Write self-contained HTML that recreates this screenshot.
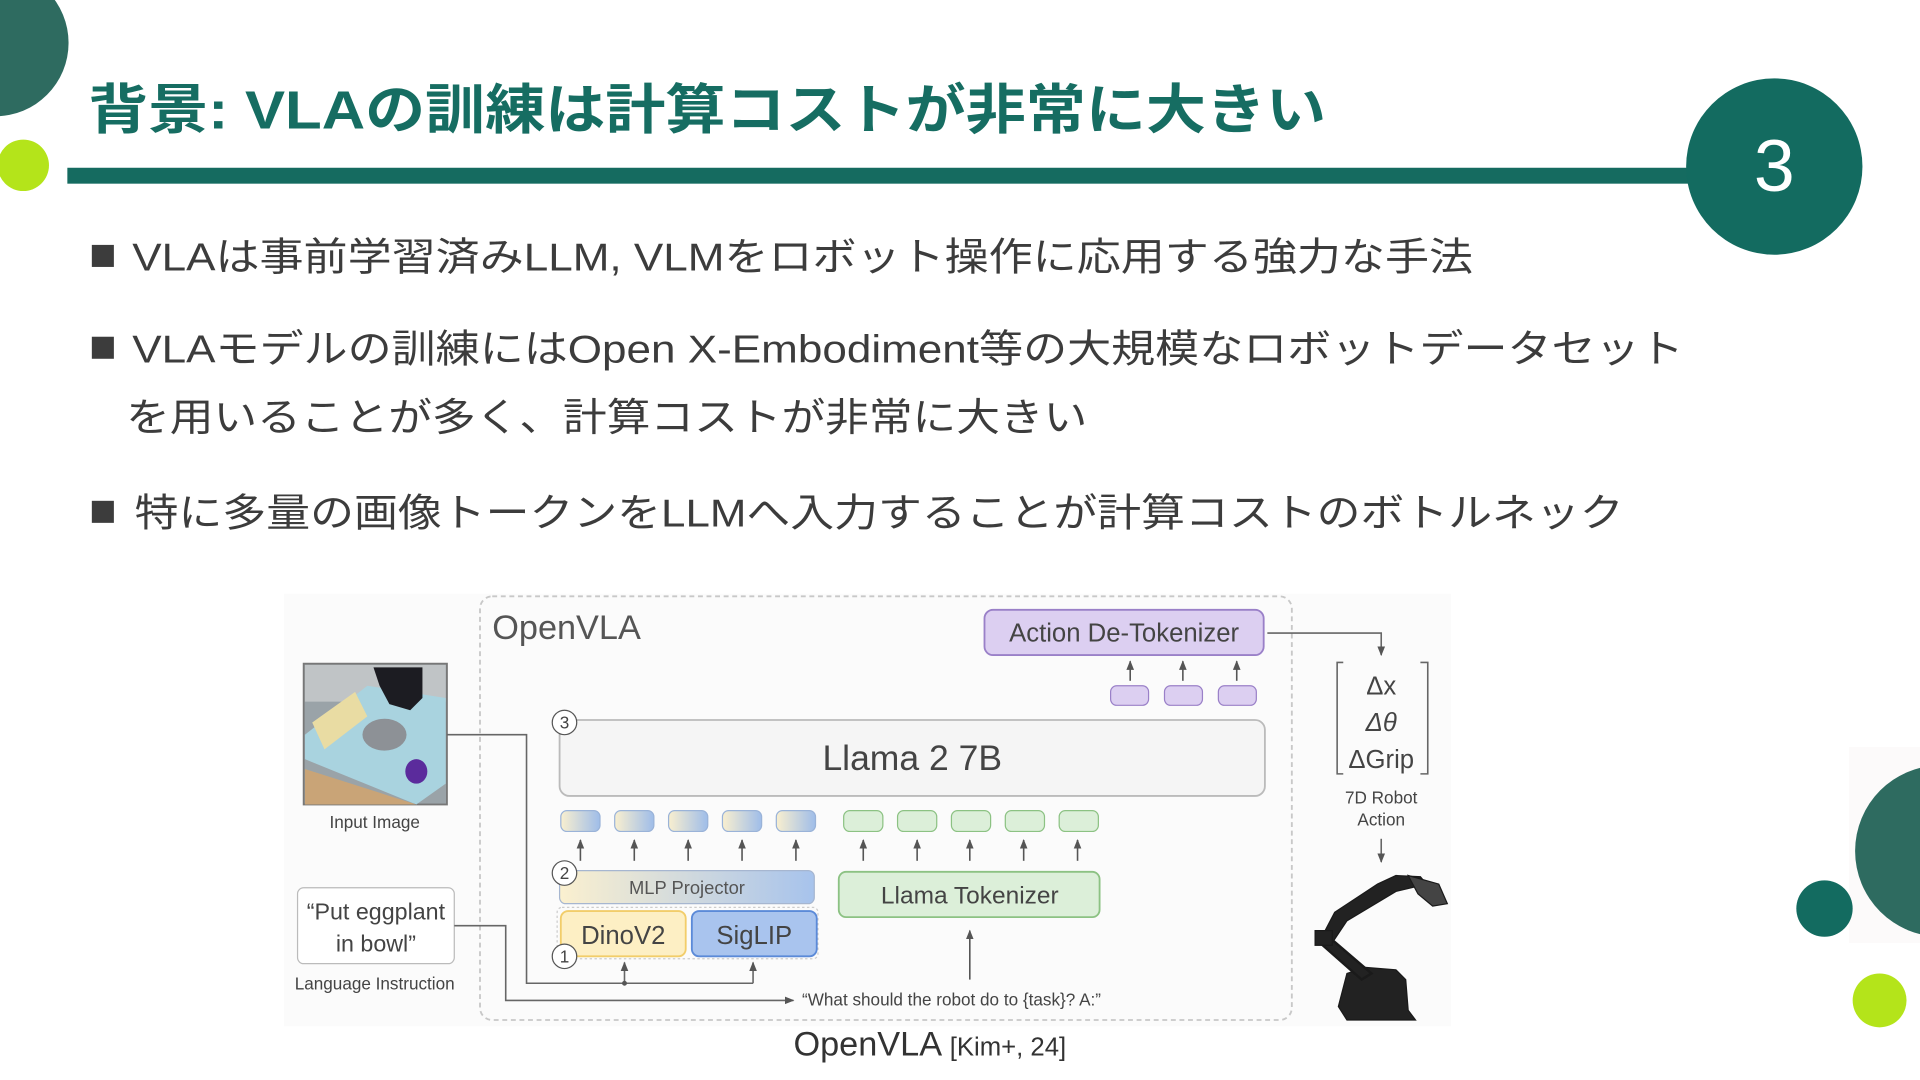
<!DOCTYPE html>
<html><head><meta charset="utf-8"><style>
html,body{margin:0;padding:0;background:#fff;width:1920px;height:1080px;overflow:hidden}
svg{display:block}
text{font-family:"Liberation Sans","Noto Sans CJK JP",sans-serif}
</style></head><body>
<svg width="1920" height="1080" viewBox="0 0 1568 882" xmlns="http://www.w3.org/2000/svg">
<defs>
<linearGradient id="gy" x1="0" x2="1" y1="0" y2="0"><stop offset="0" stop-color="#fbf0cf"/><stop offset="1" stop-color="#a7c3ec"/></linearGradient>
<linearGradient id="gt" x1="0" x2="1" y1="0" y2="0"><stop offset="0" stop-color="#f9efcf"/><stop offset="1" stop-color="#9fbde9"/></linearGradient>
<marker id="ah" viewBox="0 0 10 10" refX="9" refY="5" markerWidth="6" markerHeight="6" orient="auto"><path d="M0,1 L10,5 L0,9z" fill="#555"/></marker>
</defs>
<circle cx="-4" cy="35" r="60" fill="#2e6b60"/>
<circle cx="19" cy="135" r="21" fill="#b4e41a"/>
<rect x="55" y="137" width="1340" height="13" fill="#156b60"/>
<circle cx="1449" cy="136" r="72" fill="#136b60"/>
<text x="1449" y="156" font-size="60" fill="#fff" text-anchor="middle">3</text>
<text x="72" y="105" font-size="44" font-weight="bold" fill="#166d62" textLength="1011" lengthAdjust="spacingAndGlyphs">背景: VLAの訓練は計算コストが非常に大きい</text>
<rect x="1510" y="610" width="58" height="160" fill="#fcfafa"/>
<circle cx="1585" cy="695" r="70" fill="#2e6b60"/>
<circle cx="1490" cy="742" r="23" fill="#136b60"/>
<circle cx="1535" cy="817" r="22" fill="#b4e41a"/>
<g fill="#3c3c3c" font-size="32">
<rect x="75" y="200" width="18" height="18"/>
<text x="108" y="221" textLength="1095" lengthAdjust="spacingAndGlyphs">VLAは事前学習済みLLM, VLMをロボット操作に応用する強力な手法</text>
<rect x="75" y="275" width="18" height="18"/>
<text x="108" y="296" textLength="1267" lengthAdjust="spacingAndGlyphs">VLAモデルの訓練にはOpen X-Embodiment等の大規模なロボットデータセット</text>
<text x="103" y="352" textLength="785" lengthAdjust="spacingAndGlyphs">を用いることが多く、計算コストが非常に大きい</text>
<rect x="75" y="409" width="18" height="18"/>
<text x="110" y="430" textLength="1216" lengthAdjust="spacingAndGlyphs">特に多量の画像トークンをLLMへ入力することが計算コストのボトルネック</text>
</g>
<rect x="232" y="485" width="953" height="353" fill="#fbfbfb"/>
<rect x="392" y="487" width="663" height="346" rx="10" fill="none" stroke="#c8c8c8" stroke-width="1.5" stroke-dasharray="4,3"/>
<text x="402" y="522" font-size="28" fill="#555">OpenVLA</text>
<rect x="804" y="498" width="228" height="37" rx="7" fill="#dccff1" stroke="#9a80c8" stroke-width="1.5"/>
<text x="918" y="524" font-size="21" fill="#444" text-anchor="middle">Action De-Tokenizer</text>
<g stroke="#555" stroke-width="1.3" marker-end="url(#ah)">
<line x1="923" y1="556" x2="923" y2="540"/><line x1="966" y1="556" x2="966" y2="540"/><line x1="1010" y1="556" x2="1010" y2="540"/>
</g>
<g fill="#dccff1" stroke="#9a80c8"><rect x="907" y="560" width="31" height="16" rx="5"/><rect x="951" y="560" width="31" height="16" rx="5"/><rect x="995" y="560" width="31" height="16" rx="5"/></g>
<rect x="457" y="588" width="576" height="62" rx="8" fill="#f5f5f5" stroke="#bbb" stroke-width="1.5"/>
<text x="745" y="629" font-size="29" fill="#444" text-anchor="middle">Llama 2 7B</text>
<g stroke="#9ab3d8"><rect x="458" y="662" width="32" height="17" rx="5" fill="url(#gt)"/><rect x="502" y="662" width="32" height="17" rx="5" fill="url(#gt)"/><rect x="546" y="662" width="32" height="17" rx="5" fill="url(#gt)"/><rect x="590" y="662" width="32" height="17" rx="5" fill="url(#gt)"/><rect x="634" y="662" width="32" height="17" rx="5" fill="url(#gt)"/></g>
<g fill="#dcefd9" stroke="#8cc283"><rect x="689" y="662" width="32" height="17" rx="5"/><rect x="733" y="662" width="32" height="17" rx="5"/><rect x="777" y="662" width="32" height="17" rx="5"/><rect x="821" y="662" width="32" height="17" rx="5"/><rect x="865" y="662" width="32" height="17" rx="5"/></g>
<g stroke="#555" stroke-width="1.3" marker-end="url(#ah)">
<line x1="474" y1="703" x2="474" y2="686"/><line x1="518" y1="703" x2="518" y2="686"/><line x1="562" y1="703" x2="562" y2="686"/><line x1="606" y1="703" x2="606" y2="686"/><line x1="650" y1="703" x2="650" y2="686"/>
<line x1="705" y1="703" x2="705" y2="686"/><line x1="749" y1="703" x2="749" y2="686"/><line x1="792" y1="703" x2="792" y2="686"/><line x1="836" y1="703" x2="836" y2="686"/><line x1="880" y1="703" x2="880" y2="686"/>
</g>
<rect x="457" y="711" width="208" height="27" rx="5" fill="url(#gy)" stroke="#a6b6d0"/>
<text x="561" y="730" font-size="15" fill="#555" text-anchor="middle">MLP Projector</text>
<rect x="455" y="741" width="213" height="42" rx="4" fill="none" stroke="#ccc" stroke-dasharray="2,2"/>
<rect x="458" y="744" width="102" height="37" rx="6" fill="#fdefc4" stroke="#f2cd6a" stroke-width="1.5"/>
<text x="509" y="771" font-size="21" fill="#444" text-anchor="middle">DinoV2</text>
<rect x="565" y="744" width="102" height="37" rx="6" fill="#a9c4ee" stroke="#5b8ad8" stroke-width="1.5"/>
<text x="616" y="771" font-size="21" fill="#444" text-anchor="middle">SigLIP</text>
<g fill="#fff" stroke="#555" stroke-width="1"><circle cx="461" cy="590" r="10"/><circle cx="461" cy="713" r="10"/><circle cx="461" cy="781" r="10"/></g>
<g font-size="14" fill="#444" text-anchor="middle"><text x="461" y="595">3</text><text x="461" y="718">2</text><text x="461" y="786">1</text></g>
<rect x="685" y="712" width="213" height="37" rx="6" fill="#dcefd9" stroke="#8cc283" stroke-width="1.5"/>
<text x="792" y="738" font-size="20" fill="#444" text-anchor="middle">Llama Tokenizer</text>
<line x1="792" y1="800" x2="792" y2="760" stroke="#555" stroke-width="1.3" marker-end="url(#ah)"/>
<rect x="248" y="542" width="117" height="115" fill="#9aa3a8" stroke="#777" stroke-width="1.5"/>
<rect x="249" y="543" width="115" height="30" fill="#c0c4c6"/>
<path d="M249,600 L300,560 L364,570 L364,640 L340,657 L249,620z" fill="#a9d3df"/>
<path d="M249,628 L340,657 L249,657z" fill="#c9a477"/>
<path d="M255,590 L290,565 L300,585 L265,612z" fill="#e9dca3"/>
<ellipse cx="314" cy="600" rx="18" ry="13" fill="#8d9196"/>
<path d="M305,545 L345,545 L345,570 L335,580 L318,575 L310,560z" fill="#1c1c22"/>
<ellipse cx="340" cy="630" rx="9" ry="10" fill="#5b2b9c"/>
<text x="306" y="676" font-size="14" fill="#444" text-anchor="middle">Input Image</text>
<rect x="243" y="725" width="128" height="62" rx="5" fill="#fff" stroke="#bbb"/>
<text x="307" y="751" font-size="19" fill="#444" text-anchor="middle">“Put eggplant</text>
<text x="307" y="777" font-size="19" fill="#444" text-anchor="middle">in bowl”</text>
<text x="306" y="808" font-size="14" fill="#444" text-anchor="middle">Language Instruction</text>
<g fill="none" stroke="#666" stroke-width="1.3">
<polyline points="365,600 430,600 430,803 615,803"/>
<polyline points="371,756 413,756 413,817 648,817" marker-end="url(#ah)"/>
<line x1="510" y1="803" x2="510" y2="786" marker-end="url(#ah)"/>
<line x1="615" y1="803" x2="615" y2="786" marker-end="url(#ah)"/>
<polyline points="1035,517 1128,517 1128,535" marker-end="url(#ah)"/>
<line x1="1128" y1="685" x2="1128" y2="704" marker-end="url(#ah)"/>
<polyline points="1097,541 1092,541 1092,632 1097,632"/>
<polyline points="1160,541 1166,541 1166,632 1160,632"/>
</g>
<circle cx="510" cy="803" r="2" fill="#555"/>
<text x="655" y="821" font-size="14" fill="#444">“What should the robot do to {task}? A:”</text>
<g font-size="21" fill="#444" text-anchor="middle"><text x="1128" y="567">Δx</text><text x="1128" y="597" font-style="italic">Δθ</text><text x="1128" y="627">ΔGrip</text></g>
<text x="1128" y="656" font-size="14" fill="#444" text-anchor="middle">7D Robot</text>
<text x="1128" y="674" font-size="14" fill="#444" text-anchor="middle">Action</text>
<g fill="#222" stroke="#1a1a1a">
<path d="M1093,822 L1100,795 L1115,790 L1140,792 L1148,800 L1150,825 L1156,833 L1100,833z"/>
<path d="M1120,795 L1085,765 L1078,770 L1112,800z" stroke-width="2"/>
<path d="M1078,768 L1090,745 L1125,722 L1140,715 L1160,716 L1165,722 L1140,728 L1100,752 L1088,770z"/>
<path d="M1150,715 L1175,722 L1182,738 L1170,740 L1158,730z" fill="#444"/>
<rect x="1074" y="760" width="14" height="12"/>
</g>
<text x="648" y="862" font-size="28" fill="#333">OpenVLA <tspan font-size="21">[Kim+, 24]</tspan></text>
</svg>
</body></html>
